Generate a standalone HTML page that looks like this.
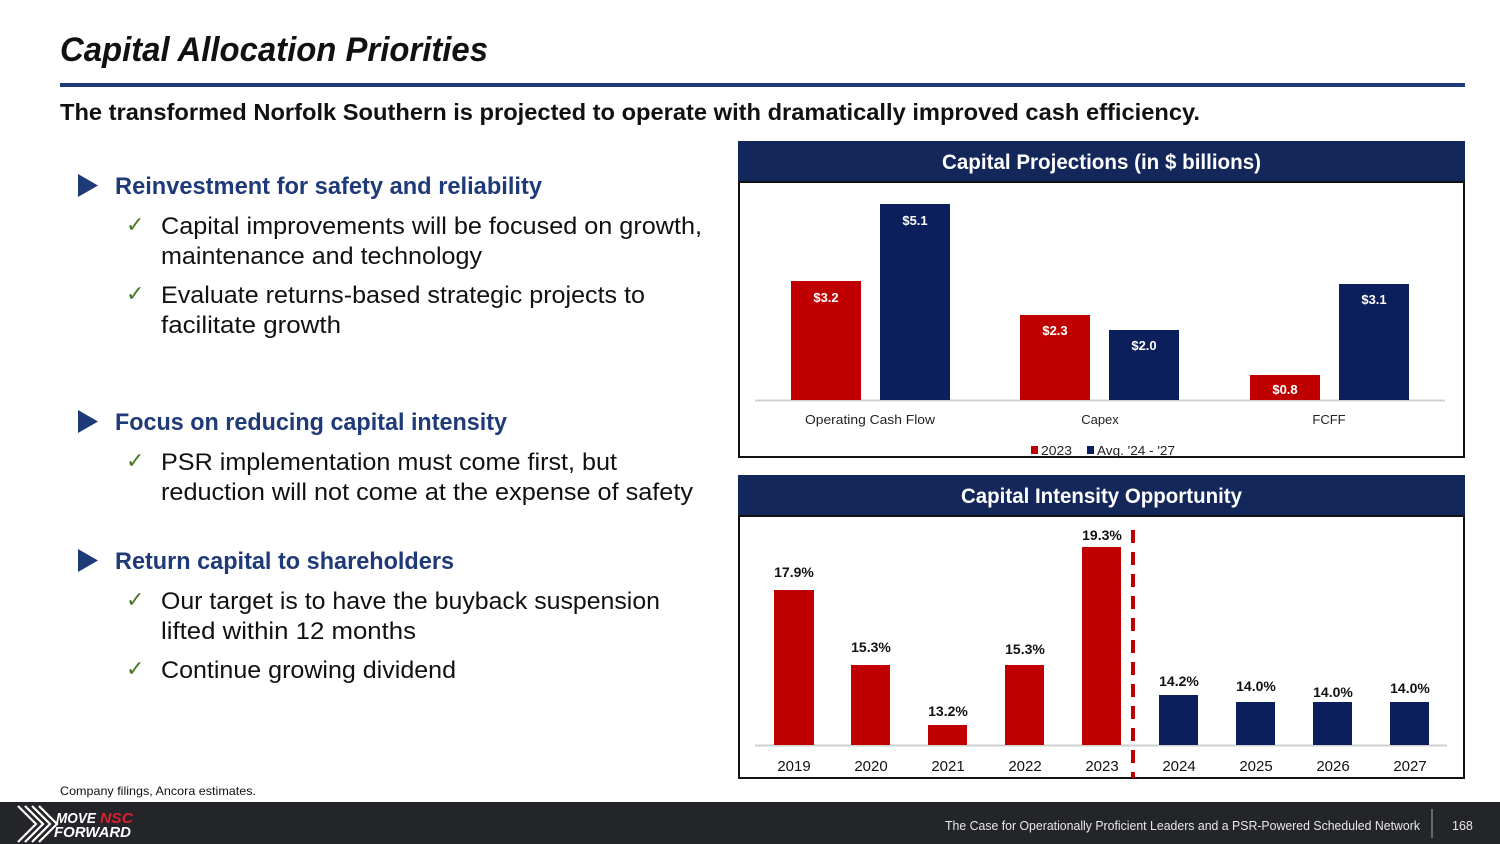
<!DOCTYPE html>
<html><head><meta charset="utf-8"><style>
html,body{margin:0;padding:0;background:#fff;}
svg{display:block;}
text{font-family:"Liberation Sans",Arial,sans-serif;}
</style></head><body>
<svg width="1500" height="844" viewBox="0 0 1500 844" xmlns="http://www.w3.org/2000/svg">
<rect x="0" y="0" width="1500" height="844" fill="#fff"/>
<!-- Title -->
<text x="60" y="61" font-size="34" font-weight="bold" font-style="italic" fill="#111" textLength="428" lengthAdjust="spacingAndGlyphs">Capital Allocation Priorities</text>
<rect x="60" y="83" width="1405" height="4" fill="#1f3c7a"/>
<text x="60" y="120" font-size="23" font-weight="bold" fill="#111" textLength="1140" lengthAdjust="spacingAndGlyphs">The transformed Norfolk Southern is projected to operate with dramatically improved cash efficiency.</text>

<!-- Bullets -->
<g fill="#1f3a78">
<polygon points="78,174 98,185.5 78,197"/>
<polygon points="78,410 98,421.5 78,433"/>
<polygon points="78,549 98,560.5 78,572"/>
</g>
<g font-size="24" font-weight="bold" fill="#1f3a78">
<text x="115" y="194" textLength="427" lengthAdjust="spacingAndGlyphs">Reinvestment for safety and reliability</text>
<text x="115" y="430" textLength="392" lengthAdjust="spacingAndGlyphs">Focus on reducing capital intensity</text>
<text x="115" y="569" textLength="339" lengthAdjust="spacingAndGlyphs">Return capital to shareholders</text>
</g>
<g font-size="22" fill="#4a7a2c" style="font-family:'DejaVu Sans',sans-serif">
<text x="126" y="232">✓</text>
<text x="126" y="301">✓</text>
<text x="126" y="468">✓</text>
<text x="126" y="607">✓</text>
<text x="126" y="676">✓</text>
</g>
<g font-size="24" fill="#111">
<text x="161" y="234" textLength="541" lengthAdjust="spacingAndGlyphs">Capital improvements will be focused on growth,</text>
<text x="161" y="264" textLength="321" lengthAdjust="spacingAndGlyphs">maintenance and technology</text>
<text x="161" y="303" textLength="484" lengthAdjust="spacingAndGlyphs">Evaluate returns-based strategic projects to</text>
<text x="161" y="333" textLength="180" lengthAdjust="spacingAndGlyphs">facilitate growth</text>
<text x="161" y="470" textLength="456" lengthAdjust="spacingAndGlyphs">PSR implementation must come first, but</text>
<text x="161" y="500" textLength="532" lengthAdjust="spacingAndGlyphs">reduction will not come at the expense of safety</text>
<text x="161" y="609" textLength="499" lengthAdjust="spacingAndGlyphs">Our target is to have the buyback suspension</text>
<text x="161" y="639" textLength="255" lengthAdjust="spacingAndGlyphs">lifted within 12 months</text>
<text x="161" y="678" textLength="295" lengthAdjust="spacingAndGlyphs">Continue growing dividend</text>
</g>

<!-- Chart 1 -->
<rect x="738" y="141" width="727" height="41" fill="#13275b"/>
<text x="1101.5" y="169" font-size="21" font-weight="bold" fill="#fff" text-anchor="middle" textLength="319" lengthAdjust="spacingAndGlyphs">Capital Projections (in $ billions)</text>
<rect x="739" y="182" width="725" height="275" fill="none" stroke="#111" stroke-width="2"/>
<line x1="755" y1="400.5" x2="1445" y2="400.5" stroke="#d0d0d0" stroke-width="2"/>
<g fill="#c00000">
<rect x="791" y="281" width="70" height="119"/>
<rect x="1020" y="315" width="70" height="85"/>
<rect x="1250" y="375" width="70" height="25"/>
</g>
<g fill="#0b1f5c">
<rect x="880" y="204" width="70" height="196"/>
<rect x="1109" y="330" width="70" height="70"/>
<rect x="1339" y="284" width="70" height="116"/>
</g>
<g font-size="13" font-weight="bold" fill="#fff" text-anchor="middle">
<text x="826" y="302">$3.2</text>
<text x="915" y="225">$5.1</text>
<text x="1055" y="335">$2.3</text>
<text x="1144" y="350">$2.0</text>
<text x="1285" y="394">$0.8</text>
<text x="1374" y="304">$3.1</text>
</g>
<g font-size="13" fill="#222" text-anchor="middle">
<text x="870" y="424" textLength="130" lengthAdjust="spacingAndGlyphs">Operating Cash Flow</text>
<text x="1100" y="424">Capex</text>
<text x="1329" y="424">FCFF</text>
</g>
<rect x="1031" y="446" width="7" height="8" fill="#c00000"/>
<text x="1041" y="455" font-size="13" fill="#222" textLength="31" lengthAdjust="spacingAndGlyphs">2023</text>
<rect x="1087" y="446" width="7" height="8" fill="#0b1f5c"/>
<text x="1097" y="455" font-size="13" fill="#222" textLength="78" lengthAdjust="spacingAndGlyphs">Avg. '24 - '27</text>

<!-- Chart 2 -->
<rect x="738" y="475" width="727" height="41" fill="#13275b"/>
<text x="1101.5" y="503" font-size="21" font-weight="bold" fill="#fff" text-anchor="middle" textLength="281" lengthAdjust="spacingAndGlyphs">Capital Intensity Opportunity</text>
<rect x="739" y="516" width="725" height="262" fill="none" stroke="#111" stroke-width="2"/>
<line x1="755" y1="745.5" x2="1447" y2="745.5" stroke="#d0d0d0" stroke-width="2"/>
<g fill="#c00000">
<rect x="774" y="590" width="40" height="155"/>
<rect x="851" y="665" width="39" height="80"/>
<rect x="928" y="725" width="39" height="20"/>
<rect x="1005" y="665" width="39" height="80"/>
<rect x="1082" y="547" width="39" height="198"/>
</g>
<g fill="#0b1f5c">
<rect x="1159" y="695" width="39" height="50"/>
<rect x="1236" y="702" width="39" height="43"/>
<rect x="1313" y="702" width="39" height="43"/>
<rect x="1390" y="702" width="39" height="43"/>
</g>
<line x1="1133" y1="530" x2="1133" y2="778" stroke="#c00000" stroke-width="4" stroke-dasharray="13,9"/>
<g font-size="14" font-weight="bold" fill="#111" text-anchor="middle">
<text x="794" y="577">17.9%</text>
<text x="871" y="652">15.3%</text>
<text x="948" y="716">13.2%</text>
<text x="1025" y="654">15.3%</text>
<text x="1102" y="540">19.3%</text>
<text x="1179" y="686">14.2%</text>
<text x="1256" y="691">14.0%</text>
<text x="1333" y="697">14.0%</text>
<text x="1410" y="693">14.0%</text>
</g>
<g font-size="15" fill="#111" text-anchor="middle">
<text x="794" y="771">2019</text>
<text x="871" y="771">2020</text>
<text x="948" y="771">2021</text>
<text x="1025" y="771">2022</text>
<text x="1102" y="771">2023</text>
<text x="1179" y="771">2024</text>
<text x="1256" y="771">2025</text>
<text x="1333" y="771">2026</text>
<text x="1410" y="771">2027</text>
</g>

<!-- Source -->
<text x="60" y="795" font-size="12" fill="#111" textLength="196" lengthAdjust="spacingAndGlyphs">Company filings, Ancora estimates.</text>

<!-- Footer -->
<rect x="0" y="802" width="1500" height="42" fill="#232528"/>
<g stroke="#fff" stroke-width="2.2" fill="none">
<polyline points="18,806 36,824 18,842"/>
<polyline points="25,806 43,824 25,842"/>
<polyline points="32,806 50,824 32,842"/>
<polyline points="39,806 57,824 39,842"/>
</g>
<text x="56" y="823" font-size="15" font-weight="bold" font-style="italic" fill="#fff" textLength="40" lengthAdjust="spacingAndGlyphs">MOVE</text>
<text x="100" y="823" font-size="15" font-weight="bold" font-style="italic" fill="#d8202f" textLength="33" lengthAdjust="spacingAndGlyphs">NSC</text>
<text x="54" y="837" font-size="15" font-weight="bold" font-style="italic" fill="#fff" textLength="77" lengthAdjust="spacingAndGlyphs">FORWARD</text>
<text x="945" y="830" font-size="12.5" fill="#e8e8e8" textLength="475" lengthAdjust="spacingAndGlyphs">The Case for Operationally Proficient Leaders and a PSR-Powered Scheduled Network</text>
<line x1="1432" y1="809" x2="1432" y2="838" stroke="#aaa" stroke-width="1"/>
<text x="1452" y="830" font-size="12.5" fill="#e8e8e8">168</text>
</svg>
</body></html>
